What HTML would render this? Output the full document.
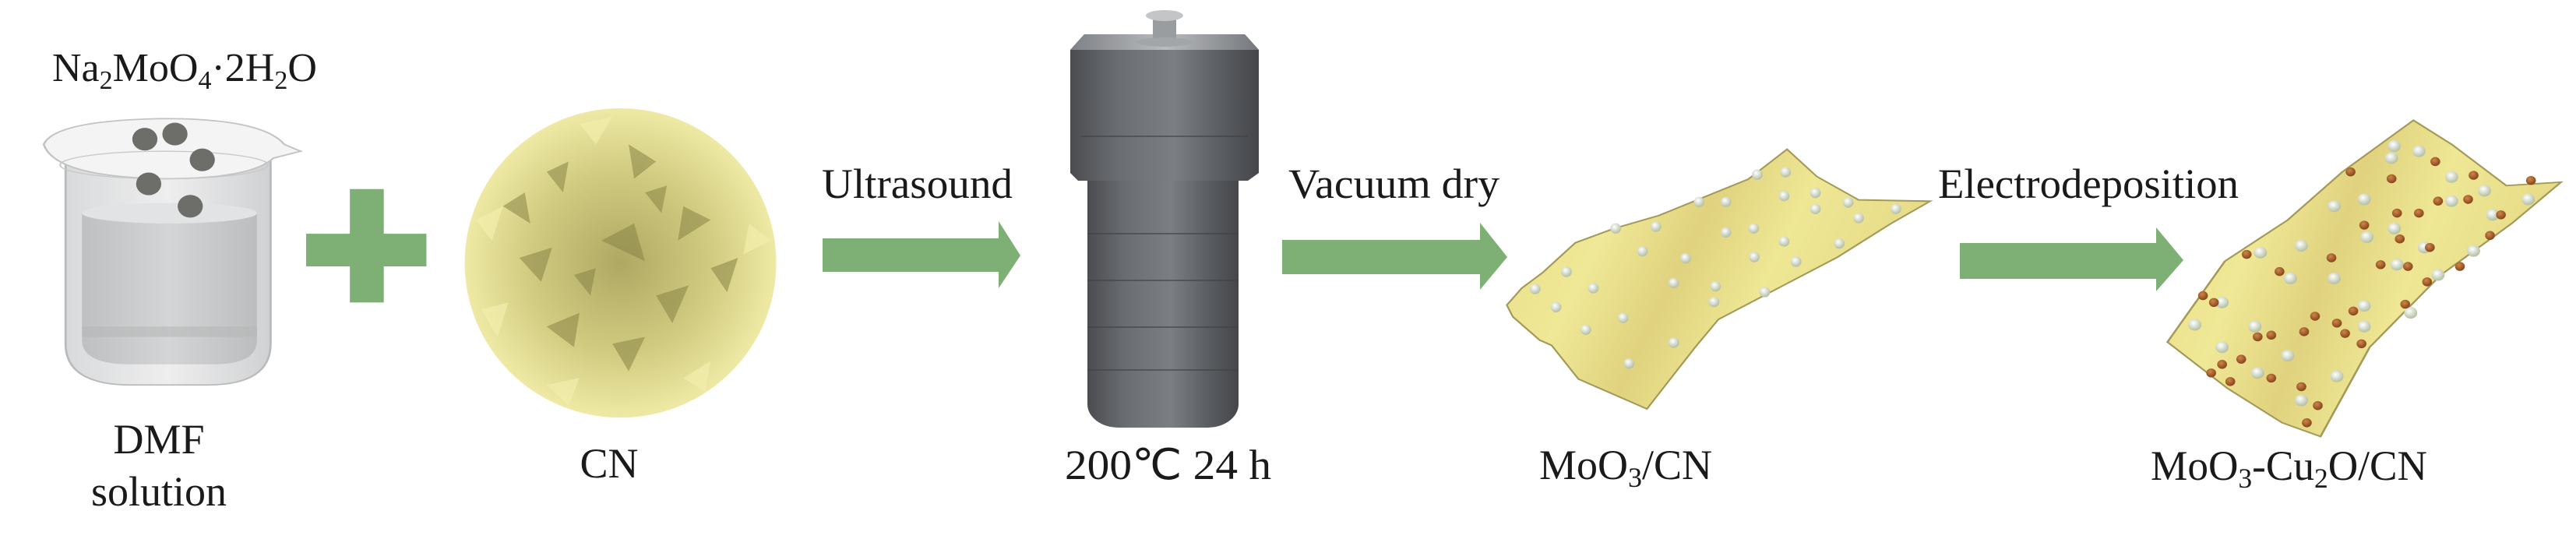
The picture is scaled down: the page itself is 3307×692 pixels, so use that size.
<!DOCTYPE html>
<html><head><meta charset="utf-8"><style>
html,body{margin:0;padding:0;background:#fff;}
svg{display:block;}
svg text{font-family:'Liberation Serif','Times New Roman',Times,serif !important;fill:#1a1a1a;}
</style></head><body>
<svg width="3307" height="692" viewBox="0 0 3307 692" xmlns="http://www.w3.org/2000/svg" font-family="'Liberation Serif', 'Times New Roman', serif">
<defs>
<linearGradient id="glass" x1="0" x2="1" y1="0" y2="0">
<stop offset="0" stop-color="#d9dadb"/><stop offset="0.5" stop-color="#eeeeef"/><stop offset="1" stop-color="#d0d1d2"/></linearGradient>
<linearGradient id="liq" x1="0" x2="1"><stop offset="0" stop-color="#bfc0c1"/><stop offset="0.5" stop-color="#d4d5d6"/><stop offset="1" stop-color="#bcbdbe"/></linearGradient>
<radialGradient id="ball" cx="0.5" cy="0.5" r="0.5">
<stop offset="0" stop-color="#aea863"/><stop offset="0.6" stop-color="#d2cc82"/><stop offset="1" stop-color="#eee9a4"/></radialGradient>
<linearGradient id="metal" x1="0" x2="1"><stop offset="0" stop-color="#4a4c50"/><stop offset="0.25" stop-color="#6a6d71"/><stop offset="0.55" stop-color="#7b7e82"/><stop offset="0.8" stop-color="#5a5d61"/><stop offset="1" stop-color="#44464a"/></linearGradient>
<linearGradient id="captop" x1="0" x2="1"><stop offset="0" stop-color="#7e8185"/><stop offset="0.5" stop-color="#b9bbbe"/><stop offset="1" stop-color="#75787c"/></linearGradient>
<linearGradient id="sheet" x1="0" y1="0" x2="1" y2="0.3">
<stop offset="0" stop-color="#e8dd86"/><stop offset="0.3" stop-color="#efe896"/><stop offset="0.5" stop-color="#e0d27e"/><stop offset="0.7" stop-color="#eee794"/><stop offset="1" stop-color="#e6da86"/></linearGradient>
<radialGradient id="wd" cx="0.4" cy="0.35" r="0.6"><stop offset="0" stop-color="#ffffff"/><stop offset="1" stop-color="#b8c3a8"/></radialGradient>
<radialGradient id="bd" cx="0.4" cy="0.35" r="0.6"><stop offset="0" stop-color="#d0864a"/><stop offset="1" stop-color="#8a4a1c"/></radialGradient>
</defs>

<g transform="scale(0.7018,0.4413)">
  <path d="M120,470 L120,1000 Q120,1120 240,1120 L380,1120 Q495,1120 495,1000 L495,470 Z" fill="url(#glass)" stroke="#b9babb" stroke-width="4"/>
  <path d="M150,620 L150,990 Q150,1060 240,1060 L390,1060 Q470,1060 470,990 L470,620 Z" fill="url(#liq)"/>
  <ellipse cx="310" cy="620" rx="160" ry="30" fill="#e2e3e4"/>
  <rect x="150" y="950" width="320" height="30" fill="#b6b7b8" opacity="0.6"/>
  <path d="M80,420 Q100,350 300,345 Q480,345 520,420 L550,440 L500,460 Q460,520 300,520 Q100,515 80,420 Z" fill="#f4f4f5" stroke="#c2c3c4" stroke-width="4"/>
  <ellipse cx="300" cy="480" rx="190" ry="40" fill="none" stroke="#c8c9ca" stroke-width="3"/>
  <g fill="#6d6d6a">
    <ellipse cx="265" cy="405" rx="23" ry="33"/><ellipse cx="320" cy="390" rx="23" ry="33"/>
    <ellipse cx="370" cy="465" rx="23" ry="33"/><ellipse cx="272" cy="535" rx="23" ry="33"/>
    <ellipse cx="348" cy="600" rx="23" ry="33"/>
  </g>
  <rect x="560" y="680" width="220" height="95" fill="#7eb075"/>
  <rect x="640" y="550" width="62" height="330" fill="#7eb075"/>
  <ellipse cx="1135" cy="765" rx="285" ry="450" fill="url(#ball)"/>
  <g fill="#8a8446" opacity="0.55">
    <polygon points="1000,500 1040,470 1030,560"/><polygon points="1150,420 1200,470 1160,520"/>
    <polygon points="1250,600 1300,640 1240,700"/><polygon points="950,750 1010,720 990,820"/>
    <polygon points="1100,700 1160,650 1180,760"/><polygon points="1200,860 1260,830 1230,940"/>
    <polygon points="1000,950 1060,910 1050,1010"/><polygon points="1120,1000 1180,980 1150,1080"/>
    <polygon points="1300,780 1350,750 1330,850"/><polygon points="920,600 960,560 970,650"/>
    <polygon points="1050,800 1090,780 1080,860"/><polygon points="1180,560 1220,540 1210,620"/>
  </g>
  <g fill="#f3eead" opacity="0.7">
    <polygon points="870,640 920,600 900,700"/><polygon points="880,900 930,880 910,980"/>
    <polygon points="1370,650 1410,700 1360,740"/><polygon points="1000,1120 1060,1100 1040,1180"/>
    <polygon points="1250,1100 1300,1050 1290,1140"/><polygon points="1060,360 1120,340 1090,420"/>
  </g>
</g>

<text x="67" y="104" font-size="52">Na<tspan font-size="34" dy="10">2</tspan><tspan dy="-10">MoO</tspan><tspan font-size="34" dy="10">4</tspan><tspan dy="-10">·2H</tspan><tspan font-size="34" dy="10">2</tspan><tspan dy="-10">O</tspan></text>
<text x="204" y="582" font-size="54" text-anchor="middle">DMF</text>
<text x="204" y="649" font-size="54" text-anchor="middle">solution</text>
<text x="782" y="613" font-size="54" text-anchor="middle">CN</text>

<polygon points="1056,306 1282,306 1282,284 1310,328 1282,370 1282,349 1056,349" fill="#7eb075"/>
<polygon points="1646,308 1900,308 1900,286 1935,330 1900,372 1900,352 1646,352" fill="#7eb075"/>
<polygon points="2516,312 2768,312 2768,292 2803,334 2768,374 2768,358 2516,358" fill="#7eb075"/>
<text x="1055" y="254" font-size="54" textLength="245" lengthAdjust="spacingAndGlyphs">Ultrasound</text>
<text x="1654" y="254" font-size="54" textLength="271" lengthAdjust="spacingAndGlyphs">Vacuum dry</text>
<text x="2488" y="254" font-size="54" textLength="386" lengthAdjust="spacingAndGlyphs">Electrodeposition</text>

<rect x="1396" y="220" width="194" height="329" rx="40" ry="30" fill="url(#metal)"/>
<rect x="1396" y="220" width="194" height="290" fill="url(#metal)"/>
<path d="M1374,64 L1392,44 L1598,44 L1616,64 L1616,222 L1602,232 L1384,232 L1374,222 Z" fill="url(#metal)"/>
<path d="M1374,64 L1392,44 L1598,44 L1616,64 Z" fill="url(#captop)"/>
<rect x="1480" y="20" width="30" height="32" fill="#9a9da0"/>
<ellipse cx="1495" cy="20" rx="24" ry="7" fill="#c3c5c7"/>
<ellipse cx="1495" cy="54" rx="36" ry="6" fill="#a3a6a9"/>
<g stroke="#404245" stroke-width="2" opacity="0.6">
<line x1="1396" y1="300" x2="1590" y2="300"/><line x1="1396" y1="360" x2="1590" y2="360"/>
<line x1="1396" y1="420" x2="1590" y2="420"/><line x1="1396" y1="475" x2="1590" y2="475"/>
<line x1="1388" y1="175" x2="1602" y2="175"/></g>
<text x="1367" y="615" font-size="54" textLength="265" lengthAdjust="spacingAndGlyphs">200℃  24 h</text>

<g transform="translate(1900,130) scale(0.3827,0.3333)">
<polygon points="90,785 140,720 210,660 320,545 450,490 600,440 750,370 900,300 1030,185 1130,290 1270,380 1510,385 1380,470 1200,600 1000,720 800,840 720,950 560,1185 330,1070 240,940 200,920 110,830" fill="url(#sheet)" stroke="#a39a5a" stroke-width="6"/>
<g fill="url(#wd)">
<ellipse cx="455" cy="490" rx="18" ry="20"/><ellipse cx="590" cy="483" rx="18" ry="20"/><ellipse cx="545" cy="578" rx="18" ry="20"/>
<ellipse cx="290" cy="657" rx="18" ry="20"/><ellipse cx="185" cy="723" rx="18" ry="20"/><ellipse cx="380" cy="720" rx="18" ry="20"/>
<ellipse cx="255" cy="793" rx="18" ry="20"/><ellipse cx="480" cy="835" rx="18" ry="20"/><ellipse cx="355" cy="880" rx="18" ry="20"/>
<ellipse cx="650" cy="700" rx="18" ry="20"/><ellipse cx="650" cy="930" rx="18" ry="20"/><ellipse cx="500" cy="1010" rx="18" ry="20"/>
<ellipse cx="690" cy="605" rx="18" ry="20"/><ellipse cx="735" cy="388" rx="18" ry="20"/><ellipse cx="825" cy="388" rx="18" ry="20"/>
<ellipse cx="930" cy="283" rx="18" ry="20"/><ellipse cx="1025" cy="273" rx="18" ry="20"/><ellipse cx="1020" cy="365" rx="18" ry="20"/>
<ellipse cx="1125" cy="353" rx="18" ry="20"/><ellipse cx="1125" cy="415" rx="18" ry="20"/><ellipse cx="1235" cy="390" rx="18" ry="20"/>
<ellipse cx="1270" cy="450" rx="18" ry="20"/><ellipse cx="1395" cy="415" rx="18" ry="20"/><ellipse cx="825" cy="505" rx="18" ry="20"/>
<ellipse cx="918" cy="490" rx="18" ry="20"/><ellipse cx="1020" cy="540" rx="18" ry="20"/><ellipse cx="1205" cy="548" rx="18" ry="20"/>
<ellipse cx="920" cy="600" rx="18" ry="20"/><ellipse cx="1060" cy="618" rx="18" ry="20"/><ellipse cx="790" cy="713" rx="18" ry="20"/>
<ellipse cx="785" cy="773" rx="18" ry="20"/><ellipse cx="955" cy="735" rx="18" ry="20"/>
</g></g>
<text x="1976" y="615" font-size="54">MoO<tspan font-size="36" dy="10">3</tspan><tspan dy="-10">/CN</tspan></text>

<g transform="translate(2200,0) scale(0.7018,0.4413)">
<polygon points="830,995 935,760 1050,640 1150,500 1280,350 1350,420 1450,540 1550,530 1460,650 1330,800 1200,1010 1110,1270 1040,1230 940,1130" fill="url(#sheet)" stroke="#a39a5a" stroke-width="4"/>
<g fill="url(#wd)">
<ellipse cx="1245" cy="425" rx="12" ry="17"/><ellipse cx="1290" cy="440" rx="12" ry="17"/><ellipse cx="1240" cy="460" rx="12" ry="17"/>
<ellipse cx="1350" cy="515" rx="12" ry="17"/><ellipse cx="1410" cy="555" rx="12" ry="17"/><ellipse cx="1190" cy="580" rx="12" ry="17"/>
<ellipse cx="1135" cy="600" rx="12" ry="17"/><ellipse cx="1350" cy="585" rx="12" ry="17"/><ellipse cx="1425" cy="625" rx="12" ry="17"/>
<ellipse cx="1490" cy="580" rx="12" ry="17"/><ellipse cx="1245" cy="665" rx="12" ry="17"/><ellipse cx="1195" cy="690" rx="12" ry="17"/>
<ellipse cx="1300" cy="720" rx="12" ry="17"/><ellipse cx="1390" cy="730" rx="12" ry="17"/><ellipse cx="1075" cy="715" rx="12" ry="17"/>
<ellipse cx="1000" cy="735" rx="12" ry="17"/><ellipse cx="1250" cy="770" rx="12" ry="17"/><ellipse cx="1055" cy="810" rx="12" ry="17"/>
<ellipse cx="1135" cy="810" rx="12" ry="17"/><ellipse cx="1325" cy="800" rx="12" ry="17"/><ellipse cx="1190" cy="890" rx="12" ry="17"/>
<ellipse cx="1275" cy="910" rx="12" ry="17"/><ellipse cx="930" cy="880" rx="12" ry="17"/><ellipse cx="880" cy="945" rx="12" ry="17"/>
<ellipse cx="990" cy="950" rx="12" ry="17"/><ellipse cx="1190" cy="950" rx="12" ry="17"/><ellipse cx="930" cy="1010" rx="12" ry="17"/>
<ellipse cx="1050" cy="1035" rx="12" ry="17"/><ellipse cx="995" cy="1085" rx="12" ry="17"/><ellipse cx="1140" cy="1095" rx="12" ry="17"/>
<ellipse cx="1075" cy="1165" rx="12" ry="17"/>
</g>
<g fill="url(#bd)">
<ellipse cx="1165" cy="500" rx="9" ry="13"/><ellipse cx="1240" cy="520" rx="9" ry="13"/><ellipse cx="1320" cy="470" rx="9" ry="13"/>
<ellipse cx="1390" cy="510" rx="9" ry="13"/><ellipse cx="1495" cy="525" rx="9" ry="13"/><ellipse cx="1325" cy="585" rx="9" ry="13"/>
<ellipse cx="1380" cy="580" rx="9" ry="13"/><ellipse cx="1250" cy="620" rx="9" ry="13"/><ellipse cx="1290" cy="620" rx="9" ry="13"/>
<ellipse cx="1440" cy="625" rx="9" ry="13"/><ellipse cx="1190" cy="655" rx="9" ry="13"/><ellipse cx="1420" cy="685" rx="9" ry="13"/>
<ellipse cx="1255" cy="695" rx="9" ry="13"/><ellipse cx="1310" cy="720" rx="9" ry="13"/><ellipse cx="1130" cy="750" rx="9" ry="13"/>
<ellipse cx="975" cy="740" rx="9" ry="13"/><ellipse cx="1220" cy="770" rx="9" ry="13"/><ellipse cx="1270" cy="775" rx="9" ry="13"/>
<ellipse cx="1365" cy="775" rx="9" ry="13"/><ellipse cx="1035" cy="790" rx="9" ry="13"/><ellipse cx="1305" cy="820" rx="9" ry="13"/>
<ellipse cx="895" cy="860" rx="9" ry="13"/><ellipse cx="915" cy="880" rx="9" ry="13"/><ellipse cx="1265" cy="885" rx="9" ry="13"/>
<ellipse cx="1170" cy="905" rx="9" ry="13"/><ellipse cx="1100" cy="920" rx="9" ry="13"/><ellipse cx="1140" cy="940" rx="9" ry="13"/>
<ellipse cx="1080" cy="965" rx="9" ry="13"/><ellipse cx="1155" cy="970" rx="9" ry="13"/><ellipse cx="1020" cy="975" rx="9" ry="13"/>
<ellipse cx="995" cy="980" rx="9" ry="13"/><ellipse cx="1185" cy="1000" rx="9" ry="13"/><ellipse cx="965" cy="1045" rx="9" ry="13"/>
<ellipse cx="930" cy="1060" rx="9" ry="13"/><ellipse cx="910" cy="1085" rx="9" ry="13"/><ellipse cx="945" cy="1110" rx="9" ry="13"/>
<ellipse cx="1020" cy="1100" rx="9" ry="13"/><ellipse cx="1075" cy="1125" rx="9" ry="13"/><ellipse cx="1105" cy="1180" rx="9" ry="13"/>
<ellipse cx="1085" cy="1230" rx="9" ry="13"/>
</g></g>
<text x="2761" y="616" font-size="54" textLength="355" lengthAdjust="spacingAndGlyphs">MoO<tspan font-size="36" dy="10">3</tspan><tspan dy="-10">-Cu</tspan><tspan font-size="36" dy="10">2</tspan><tspan dy="-10">O/CN</tspan></text>
</svg>
</body></html>
